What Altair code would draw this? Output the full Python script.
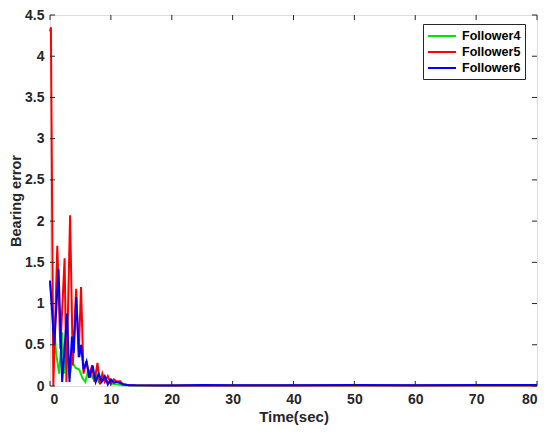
import altair as alt
import pandas as pd

# Follower4 (green)
t_f4 = [0, 0.5, 1.0, 1.5, 2.0, 2.3, 2.8, 3.2, 3.6, 4.2, 4.8, 5.3, 5.8, 6.3, 7.0, 7.5, 8.0, 9.0, 10.0, 12.0, 14, 20, 30, 40, 50, 60, 70, 80]
v_f4 = [1.25, 0.9, 0.4, 0.15, 0.65, 0.15, 0.55, 0.1, 0.3, 0.22, 0.2, 0.1, 0.05, 0.2, 0.1, 0.15, 0.05, 0.08, 0.03, 0.01, 0.005, 0.005, 0.005, 0.005, 0.005, 0.005, 0.005, 0.005]
# Follower5 (red)
t_f5 = [0, 0.15, 0.55, 1.2, 1.7, 2.4, 2.7, 3.3, 3.75, 4.3, 4.7, 5.1, 5.5, 6.0, 6.4, 6.9, 7.3, 7.8, 8.2, 8.6, 9.0, 9.5, 10.0, 10.5, 11.0, 11.5, 12.0, 13, 14, 20, 30, 40, 50, 60, 70, 80]
v_f5 = [4.3, 4.35, 0.0, 1.70, 0.45, 1.55, 0.05, 2.07, 0.25, 1.18, 0.35, 1.2, 0.15, 0.3, 0.1, 0.25, 0.05, 0.28, 0.02, 0.15, 0.05, 0.12, 0.03, 0.08, 0.05, 0.06, 0.02, 0.01, 0.008, 0.006, 0.006, 0.006, 0.006, 0.006, 0.006, 0.006]
# Follower6 (blue)
t_f6 = [0, 0.7, 1.4, 2.0, 2.8, 3.2, 3.6, 3.9, 4.3, 4.8, 5.1, 5.5, 6.0, 6.5, 7.0, 7.5, 8.0, 8.5, 9.0, 9.5, 10.0, 10.5, 11.0, 12.0, 13.0, 14, 20, 25, 30, 40, 50, 60, 70, 80]
v_f6 = [1.28, 0.5, 1.42, 0.05, 0.88, 0.05, 0.6, 0.4, 1.08, 0.35, 0.5, 0.2, 0.3, 0.1, 0.25, 0.05, 0.15, 0.05, 0.12, 0.02, 0.08, 0.04, 0.05, 0.02, 0.01, 0.008, 0.006, 0.012, 0.008, 0.01, 0.012, 0.009, 0.011, 0.012]

series = ["Follower4", "Follower5", "Follower6"]
colors = ["#00e600", "#ff0000", "#0000ff"]
x_ticks = [0, 10, 20, 30, 40, 50, 60, 70, 80]
y_ticks = [0, 0.5, 1, 1.5, 2, 2.5, 3, 3.5, 4, 4.5]

rows = []
for name, ts, vs in zip(series, [t_f4, t_f5, t_f6], [v_f4, v_f5, v_f6]):
    for i, (t, v) in enumerate(zip(ts, vs)):
        rows.append({"series": name, "t": t, "v": v, "i": i})
df = pd.DataFrame(rows)

W, H = 487, 371
xs = alt.Scale(domain=[0, 80], nice=False)
ys = alt.Scale(domain=[0, 4.5], nice=False)
font = "Liberation Sans"

lines = alt.Chart(df).mark_line(strokeWidth=2).encode(
    x=alt.X("t:Q", scale=xs, title="Time(sec)",
            axis=alt.Axis(values=x_ticks, ticks=False, domain=False, grid=False,
                          labelFont=font, labelFontSize=14, labelFontWeight="bold",
                          labelColor="#262626", labelPadding=6,
                          titleFont=font, titleFontSize=15, titleFontWeight="bold",
                          titleColor="#262626", titlePadding=3)),
    y=alt.Y("v:Q", scale=ys, title="Bearing error",
            axis=alt.Axis(values=y_ticks, ticks=False, domain=False, grid=False, format="~g",
                          labelFont=font, labelFontSize=14, labelFontWeight="bold",
                          labelColor="#262626", labelPadding=6,
                          titleFont=font, titleFontSize=14.5, titleFontWeight="bold",
                          titleColor="#262626", titlePadding=1)),
    color=alt.Color("series:N", scale=alt.Scale(domain=series, range=colors),
                    legend=alt.Legend(orient="none", legendX=373, legendY=9, title=None,
                                      symbolType="M-1,0H3", symbolSize=196, symbolStrokeWidth=2,
                                      labelFont=font, labelFontSize=12.5, labelFontWeight="bold",
                                      labelColor="#000000", strokeColor="#262626",
                                      fillColor="white", padding=4, rowPadding=1,
                                      labelOffset=19)),
    order=alt.Order("i:Q"),
)

xt = pd.DataFrame({"x": x_ticks})
yt = pd.DataFrame({"y": y_ticks})
tick_color = "#262626"
xb = alt.Chart(xt).mark_rule(color=tick_color).encode(x=alt.X("x:Q", scale=xs), y=alt.value(H), y2=alt.value(H - 5))
xtop = alt.Chart(xt).mark_rule(color=tick_color).encode(x=alt.X("x:Q", scale=xs), y=alt.value(0), y2=alt.value(5))
yl = alt.Chart(yt).mark_rule(color=tick_color).encode(y=alt.Y("y:Q", scale=ys), x=alt.value(0), x2=alt.value(5))
yr = alt.Chart(yt).mark_rule(color=tick_color).encode(y=alt.Y("y:Q", scale=ys), x=alt.value(W), x2=alt.value(W - 5))

chart = alt.layer(lines, xb, xtop, yl, yr).properties(
    width=W, height=H,
    autosize=alt.AutoSizeParams(type="none"),
    padding={"left": 42, "top": 7, "right": 5, "bottom": 41},
).configure_view(stroke="#262626", strokeWidth=1).configure(background="white")

chart.save("out.html", embed_options={"renderer": "svg", "actions": False})
